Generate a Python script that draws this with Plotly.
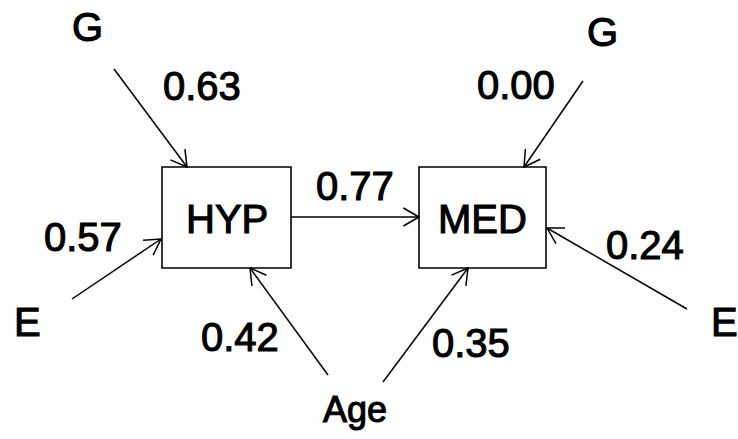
import math
import plotly.graph_objects as go

# ---- data ----
nodes = ["HYP", "MED"]
sources = ["G", "E", "Age", "HYP", "G", "E", "Age"]
targets = ["HYP", "HYP", "HYP", "MED", "MED", "MED", "MED"]
coefs = ["0.63", "0.57", "0.42", "0.77", "0.00", "0.24", "0.35"]

# ---- layout geometry (pixels, y downward) ----
W, H = 738, 439
boxes = {"HYP": (162, 167, 291, 268), "MED": (419, 167, 546, 268)}
arrow_xy = [
    ((114, 69), (187, 167)),
    ((72, 299), (161, 239)),
    ((328, 375), (250, 268)),
    ((291, 217), (419, 217)),
    ((583, 81), (524, 167)),
    ((687, 309), (547, 228)),
    ((383, 382), (468, 268)),
]
coef_xy = [(202, 86), (83, 237), (240, 337), (355, 186), (516, 85), (645, 245), (471, 343)]
src_label_xy = [(87, 27), (27, 322), (355, 409), None, (602, 32), (724, 322), None]
src_size = [40, 40, 36, None, 40, 40, None]

FONT = "Liberation Sans, Arial, Helvetica, sans-serif"
FS = 40

def label(text, x, y, size=FS):
    fig.add_annotation(x=x, y=y, text=text, showarrow=False,
                       font=dict(family=FONT, size=size, color="black"))

fig = go.Figure()

# arrows: shaft + open V head
for (p0, p1) in arrow_xy:
    x0, y0 = p0
    x1, y1 = p1
    ang = math.atan2(y1 - y0, x1 - x0)
    L, a = 18, math.radians(30)
    bx1 = x1 - L * math.cos(ang - a)
    by1 = y1 - L * math.sin(ang - a)
    bx2 = x1 - L * math.cos(ang + a)
    by2 = y1 - L * math.sin(ang + a)
    fig.add_trace(go.Scatter(
        x=[x0, x1, None, bx1, x1, bx2],
        y=[y0, y1, None, by1, y1, by2],
        mode="lines", line=dict(color="black", width=1.5),
        hoverinfo="skip", showlegend=False))

for n in nodes:
    x0, y0, x1, y1 = boxes[n]
    fig.add_shape(type="rect", x0=x0, y0=y0, x1=x1, y1=y1,
                  line=dict(color="black", width=1.6), fillcolor="rgba(0,0,0,0)")
    label(n, (x0 + x1) / 2, (y0 + y1) / 2 + 1)

for c, (cx, cy) in zip(coefs, coef_xy):
    label(c, cx, cy)

for s, pos, sz in zip(sources, src_label_xy, src_size):
    if pos is None:
        continue
    label(s, pos[0], pos[1], sz)

fig.update_xaxes(range=[0, W], visible=False, fixedrange=True)
fig.update_yaxes(range=[H, 0], visible=False, fixedrange=True)
fig.update_layout(width=W, height=H, margin=dict(l=0, r=0, t=0, b=0),
                  plot_bgcolor="white", paper_bgcolor="white")

post = (
    "document.body.style.margin='0';document.body.style.padding='0';"
    "document.querySelectorAll('.annotation-text').forEach(function(e){"
    "e.style.stroke='#000';e.style.strokeWidth='1.1px';});"
)
fig.write_html("out.html", config={"displayModeBar": False}, post_script=post)
